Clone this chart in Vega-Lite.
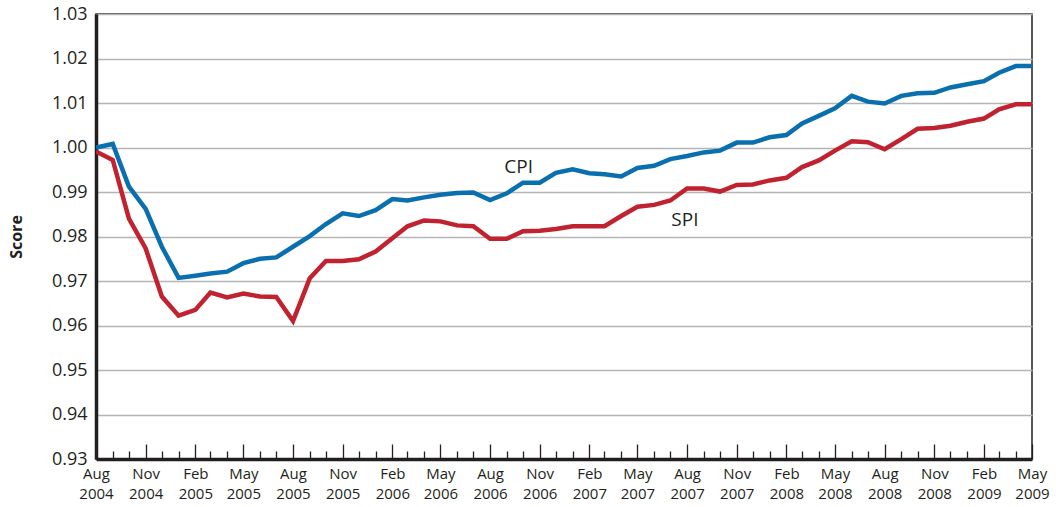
{
  "$schema": "https://vega.github.io/schema/vega-lite/v6.json",
  "width": 936,
  "height": 445,
  "autosize": "none",
  "padding": {"left": 96, "top": 14, "right": 24, "bottom": 48},
  "background": "white",
  "config": {
    "view": {"stroke": "#231f20", "strokeWidth": 1.5},
    "font": "Open Sans"
  },
  "datasets": {
    "series": [
      {"date": "2004-08-01", "series": "CPI", "value": 1.0000},
      {"date": "2004-09-01", "series": "CPI", "value": 1.0008},
      {"date": "2004-10-01", "series": "CPI", "value": 0.9912},
      {"date": "2004-11-01", "series": "CPI", "value": 0.9862},
      {"date": "2004-12-01", "series": "CPI", "value": 0.9777},
      {"date": "2005-01-01", "series": "CPI", "value": 0.9707},
      {"date": "2005-02-01", "series": "CPI", "value": 0.9712},
      {"date": "2005-03-01", "series": "CPI", "value": 0.9717},
      {"date": "2005-04-01", "series": "CPI", "value": 0.9721},
      {"date": "2005-05-01", "series": "CPI", "value": 0.9740},
      {"date": "2005-06-01", "series": "CPI", "value": 0.9750},
      {"date": "2005-07-01", "series": "CPI", "value": 0.9753},
      {"date": "2005-08-01", "series": "CPI", "value": 0.9777},
      {"date": "2005-09-01", "series": "CPI", "value": 0.9801},
      {"date": "2005-10-01", "series": "CPI", "value": 0.9828},
      {"date": "2005-11-01", "series": "CPI", "value": 0.9852},
      {"date": "2005-12-01", "series": "CPI", "value": 0.9846},
      {"date": "2006-01-01", "series": "CPI", "value": 0.9859},
      {"date": "2006-02-01", "series": "CPI", "value": 0.9884},
      {"date": "2006-03-01", "series": "CPI", "value": 0.9881},
      {"date": "2006-04-01", "series": "CPI", "value": 0.9888},
      {"date": "2006-05-01", "series": "CPI", "value": 0.9894},
      {"date": "2006-06-01", "series": "CPI", "value": 0.9898},
      {"date": "2006-07-01", "series": "CPI", "value": 0.9899},
      {"date": "2006-08-01", "series": "CPI", "value": 0.9882},
      {"date": "2006-09-01", "series": "CPI", "value": 0.9897},
      {"date": "2006-10-01", "series": "CPI", "value": 0.9921},
      {"date": "2006-11-01", "series": "CPI", "value": 0.9921},
      {"date": "2006-12-01", "series": "CPI", "value": 0.9943},
      {"date": "2007-01-01", "series": "CPI", "value": 0.9951},
      {"date": "2007-02-01", "series": "CPI", "value": 0.9942},
      {"date": "2007-03-01", "series": "CPI", "value": 0.9940},
      {"date": "2007-04-01", "series": "CPI", "value": 0.9935},
      {"date": "2007-05-01", "series": "CPI", "value": 0.9954},
      {"date": "2007-06-01", "series": "CPI", "value": 0.9959},
      {"date": "2007-07-01", "series": "CPI", "value": 0.9974},
      {"date": "2007-08-01", "series": "CPI", "value": 0.9981},
      {"date": "2007-09-01", "series": "CPI", "value": 0.9989},
      {"date": "2007-10-01", "series": "CPI", "value": 0.9993},
      {"date": "2007-11-01", "series": "CPI", "value": 1.0011},
      {"date": "2007-12-01", "series": "CPI", "value": 1.0011},
      {"date": "2008-01-01", "series": "CPI", "value": 1.0023},
      {"date": "2008-02-01", "series": "CPI", "value": 1.0028},
      {"date": "2008-03-01", "series": "CPI", "value": 1.0054},
      {"date": "2008-04-01", "series": "CPI", "value": 1.0071},
      {"date": "2008-05-01", "series": "CPI", "value": 1.0088},
      {"date": "2008-06-01", "series": "CPI", "value": 1.0116},
      {"date": "2008-07-01", "series": "CPI", "value": 1.0103},
      {"date": "2008-08-01", "series": "CPI", "value": 1.0099},
      {"date": "2008-09-01", "series": "CPI", "value": 1.0116},
      {"date": "2008-10-01", "series": "CPI", "value": 1.0122},
      {"date": "2008-11-01", "series": "CPI", "value": 1.0123},
      {"date": "2008-12-01", "series": "CPI", "value": 1.0135},
      {"date": "2009-01-01", "series": "CPI", "value": 1.0142},
      {"date": "2009-02-01", "series": "CPI", "value": 1.0149},
      {"date": "2009-03-01", "series": "CPI", "value": 1.0168},
      {"date": "2009-04-01", "series": "CPI", "value": 1.0183},
      {"date": "2009-05-01", "series": "CPI", "value": 1.0183},
      {"date": "2004-08-01", "series": "SPI", "value": 0.9991},
      {"date": "2004-09-01", "series": "SPI", "value": 0.9972},
      {"date": "2004-10-01", "series": "SPI", "value": 0.9840},
      {"date": "2004-11-01", "series": "SPI", "value": 0.9773},
      {"date": "2004-12-01", "series": "SPI", "value": 0.9665},
      {"date": "2005-01-01", "series": "SPI", "value": 0.9622},
      {"date": "2005-02-01", "series": "SPI", "value": 0.9635},
      {"date": "2005-03-01", "series": "SPI", "value": 0.9674},
      {"date": "2005-04-01", "series": "SPI", "value": 0.9663},
      {"date": "2005-05-01", "series": "SPI", "value": 0.9672},
      {"date": "2005-06-01", "series": "SPI", "value": 0.9665},
      {"date": "2005-07-01", "series": "SPI", "value": 0.9664},
      {"date": "2005-08-01", "series": "SPI", "value": 0.9610},
      {"date": "2005-09-01", "series": "SPI", "value": 0.9706},
      {"date": "2005-10-01", "series": "SPI", "value": 0.9745},
      {"date": "2005-11-01", "series": "SPI", "value": 0.9745},
      {"date": "2005-12-01", "series": "SPI", "value": 0.9749},
      {"date": "2006-01-01", "series": "SPI", "value": 0.9766},
      {"date": "2006-02-01", "series": "SPI", "value": 0.9796},
      {"date": "2006-03-01", "series": "SPI", "value": 0.9823},
      {"date": "2006-04-01", "series": "SPI", "value": 0.9836},
      {"date": "2006-05-01", "series": "SPI", "value": 0.9834},
      {"date": "2006-06-01", "series": "SPI", "value": 0.9825},
      {"date": "2006-07-01", "series": "SPI", "value": 0.9823},
      {"date": "2006-08-01", "series": "SPI", "value": 0.9795},
      {"date": "2006-09-01", "series": "SPI", "value": 0.9795},
      {"date": "2006-10-01", "series": "SPI", "value": 0.9812},
      {"date": "2006-11-01", "series": "SPI", "value": 0.9813},
      {"date": "2006-12-01", "series": "SPI", "value": 0.9817},
      {"date": "2007-01-01", "series": "SPI", "value": 0.9823},
      {"date": "2007-02-01", "series": "SPI", "value": 0.9823},
      {"date": "2007-03-01", "series": "SPI", "value": 0.9823},
      {"date": "2007-04-01", "series": "SPI", "value": 0.9846},
      {"date": "2007-05-01", "series": "SPI", "value": 0.9867},
      {"date": "2007-06-01", "series": "SPI", "value": 0.9871},
      {"date": "2007-07-01", "series": "SPI", "value": 0.9881},
      {"date": "2007-08-01", "series": "SPI", "value": 0.9908},
      {"date": "2007-09-01", "series": "SPI", "value": 0.9908},
      {"date": "2007-10-01", "series": "SPI", "value": 0.9901},
      {"date": "2007-11-01", "series": "SPI", "value": 0.9916},
      {"date": "2007-12-01", "series": "SPI", "value": 0.9917},
      {"date": "2008-01-01", "series": "SPI", "value": 0.9926},
      {"date": "2008-02-01", "series": "SPI", "value": 0.9932},
      {"date": "2008-03-01", "series": "SPI", "value": 0.9956},
      {"date": "2008-04-01", "series": "SPI", "value": 0.9971},
      {"date": "2008-05-01", "series": "SPI", "value": 0.9993},
      {"date": "2008-06-01", "series": "SPI", "value": 1.0014},
      {"date": "2008-07-01", "series": "SPI", "value": 1.0012},
      {"date": "2008-08-01", "series": "SPI", "value": 0.9996},
      {"date": "2008-09-01", "series": "SPI", "value": 1.0019},
      {"date": "2008-10-01", "series": "SPI", "value": 1.0042},
      {"date": "2008-11-01", "series": "SPI", "value": 1.0044},
      {"date": "2008-12-01", "series": "SPI", "value": 1.0049},
      {"date": "2009-01-01", "series": "SPI", "value": 1.0058},
      {"date": "2009-02-01", "series": "SPI", "value": 1.0065},
      {"date": "2009-03-01", "series": "SPI", "value": 1.0086},
      {"date": "2009-04-01", "series": "SPI", "value": 1.0097},
      {"date": "2009-05-01", "series": "SPI", "value": 1.0097}
    ],
    "labels": [
      {"date": "2006-09-23", "series": "CPI", "value": 0.9957},
      {"date": "2007-07-28", "series": "SPI", "value": 0.9836}
    ]
  },
  "layer": [
    {
      "data": {"name": "series"},
      "mark": {"type": "line", "strokeWidth": 4.5, "clip": true},
      "encoding": {
        "x": {
          "field": "date",
          "type": "temporal",
          "scale": {"type": "utc", "domain": [{"year": 2004, "month": 8, "date": 1, "utc": true}, {"year": 2009, "month": 5, "date": 1, "utc": true}]},
          "axis": {
            "title": null,
            "grid": false,
            "tickCount": {"interval": "month", "step": 1},
            "labelExpr": "utcmonth(datum.value) % 3 == 1 ? [utcFormat(datum.value, '%b'), utcFormat(datum.value, '%Y')] : ''",
            "tickSize": {"condition": {"test": "utcmonth(datum.value) % 3 == 1", "value": -15}, "value": -8},
            "tickColor": "#231f20",
            "tickWidth": 1.3,
            "domainColor": "#231f20",
            "domainWidth": 3.5,
            "labelFont": "Open Sans",
            "labelFontSize": 15,
            "labelColor": "#231f20",
            "labelPadding": 22,
            "labelLineHeight": 20,
            "labelOverlap": false,
            "labelFlush": false,
            "labelBound": false
          }
        },
        "y": {
          "field": "value",
          "type": "quantitative",
          "scale": {"domain": [0.93, 1.03], "nice": false, "zero": false},
          "axis": {
            "title": "Score",
            "titleFont": "Open Sans",
            "titleFontSize": 16,
            "titleFontWeight": "bold",
            "titleColor": "#231f20",
            "titlePadding": 27,
            "values": [0.93, 0.94, 0.95, 0.96, 0.97, 0.98, 0.99, 1.0, 1.01, 1.02, 1.03],
            "format": ".2f",
            "grid": true,
            "gridColor": "#b5b5b5",
            "gridWidth": 1.5,
            "ticks": false,
            "domainColor": "#231f20",
            "domainWidth": 3.5,
            "labelFont": "Open Sans",
            "labelFontSize": 18,
            "labelColor": "#231f20",
            "labelPadding": 9
          }
        },
        "color": {
          "field": "series",
          "type": "nominal",
          "scale": {"domain": ["CPI", "SPI"], "range": ["#0a6fae", "#c1222f"]},
          "legend": null
        }
      }
    },
    {
      "data": {"name": "labels"},
      "mark": {"type": "text", "font": "Open Sans", "fontSize": 19, "color": "#231f20", "align": "center", "baseline": "middle"},
      "encoding": {
        "x": {"field": "date", "type": "temporal"},
        "y": {"field": "value", "type": "quantitative"},
        "text": {"field": "series"}
      }
    }
  ]
}
